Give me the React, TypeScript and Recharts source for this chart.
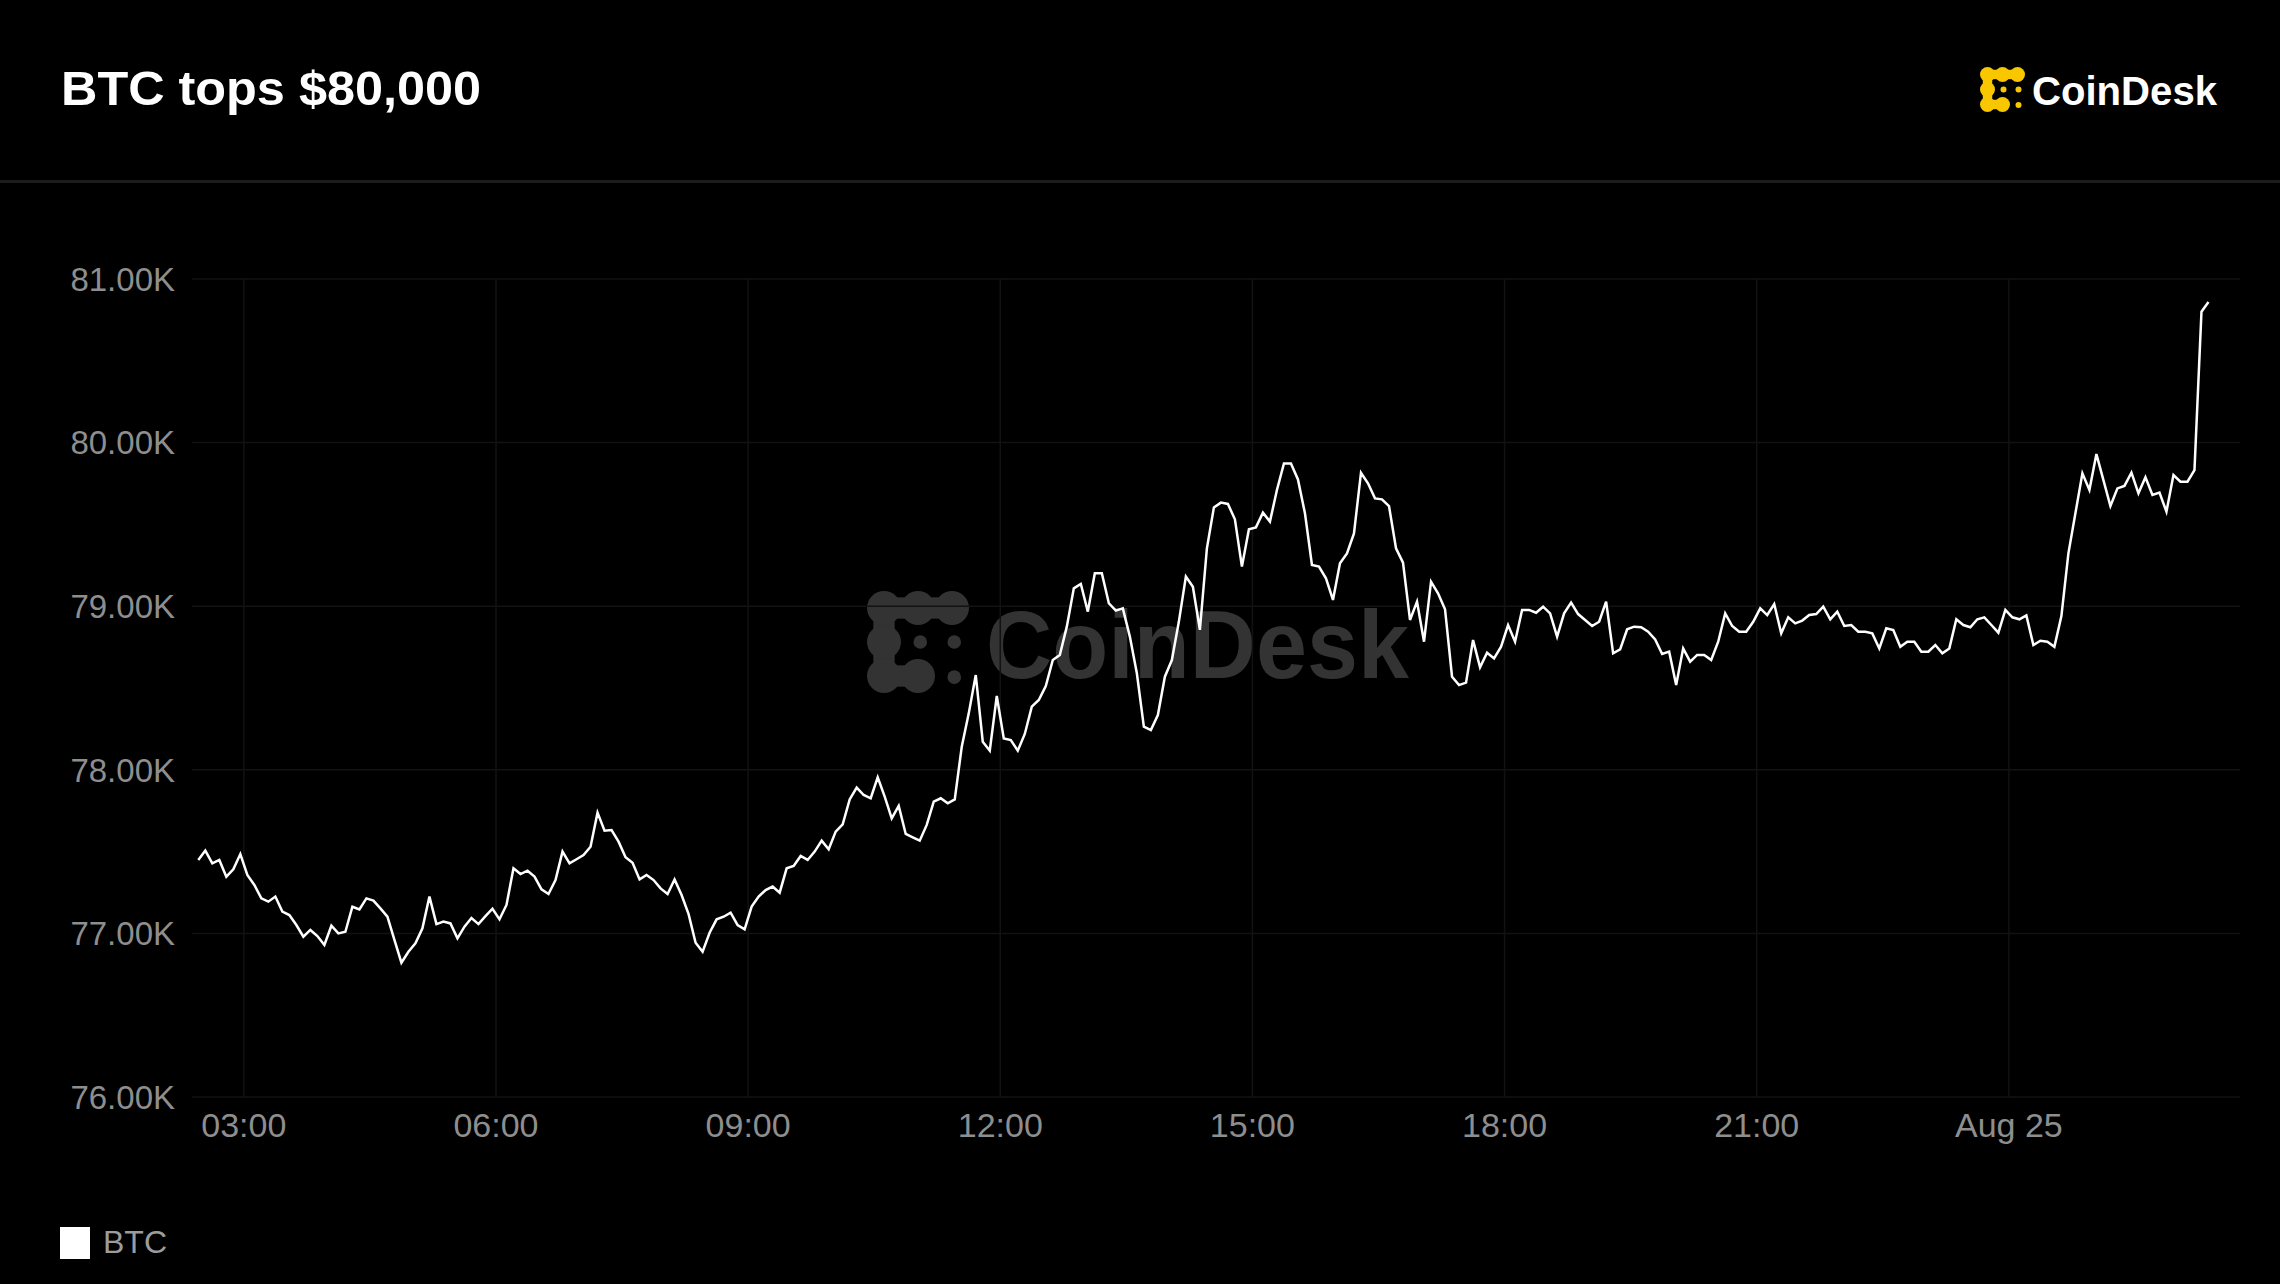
import { LineChart, Line, XAxis, YAxis, CartesianGrid } from "recharts";

const W = 2280;
const H = 1284;
const FONT = '"Liberation Sans", Arial, Helvetica, sans-serif';

// minutes relative to 03:00 on Aug 24, one price every 5 minutes
const START_MIN = -32.5;
const STEP_MIN = 5;
const X_DOMAIN: [number, number] = [-37, 1425];

const earlyMorning = [
  77449, 77506, 77428, 77449, 77347, 77392, 77485, 77357, 77296, 77214,
  77194, 77225, 77133, 77112, 77051, 76980, 77021, 76984, 76929, 77047,
  77000, 77010, 77163, 77147, 77214, 77200, 77153, 77102, 76960, 76821,
  76888, 76939, 77031, 77225, 77057, 77072, 77061, 76970, 77041, 77094,
  77057, 77106, 77151, 77086, 77174, 77398, 77363, 77383, 77347, 77269,
  77241, 77326, 77500, 77428, 77453, 77479, 77530, 77738, 77628, 77632,
  77561, 77465, 77432, 77330, 77357, 77326, 77275, 77241, 77330, 77235,
  77118, 76943, 76888, 77004, 77086, 77102, 77127, 77051,
];

const lateMorning = [
  77025, 77164, 77225, 77265, 77286, 77249, 77398, 77412, 77473, 77449,
  77500, 77567, 77514, 77622, 77667, 77819, 77891, 77846, 77826, 77954,
  77836, 77703, 77779, 77608, 77587, 77567, 77663, 77805, 77826, 77795,
  77819, 78141, 78345, 78579, 78172, 78117, 78451, 78192, 78182, 78117,
  78219, 78386, 78427, 78512, 78671, 78702, 78875, 79109, 79136, 78967,
  79201, 79201, 79018, 78973, 78987, 78814, 78590, 78264, 78243, 78335,
  78569, 78671, 78906, 79181, 79119, 78855,
];

const afternoon = [
  79354, 79604, 79633, 79625, 79531, 79242, 79470, 79482, 79572, 79517,
  79710, 79873, 79873, 79775, 79568, 79252, 79242, 79170, 79038, 79262,
  79323, 79445, 79816, 79751, 79659, 79653, 79612, 79354, 79266, 78916,
  79028, 78783, 79150, 79079, 78981, 78569, 78518, 78533, 78793, 78626,
  78716, 78681, 78753, 78885, 78783, 78977, 78977, 78960, 78997, 78956,
  78814, 78956, 79022, 78952, 78916, 78879, 78905, 79028, 78712, 78736,
  78859, 78875, 78871, 78844,
];

const overnight = [
  78797, 78708, 78722, 78518, 78742, 78661, 78702, 78702, 78671, 78783,
  78956, 78879, 78844, 78844, 78905, 78987, 78946, 79013, 78834, 78932,
  78895, 78912, 78946, 78952, 78997, 78920, 78967, 78879, 78885, 78844,
  78844, 78834, 78742, 78865, 78854, 78752, 78783, 78783, 78722, 78722,
  78763, 78712, 78742, 78920, 78885, 78871, 78920, 78932, 78885, 78838,
  78977, 78932, 78920, 78944, 78763, 78789, 78783, 78752, 78940, 79323,
  79568, 79812, 79710, 79930, 79771, 79612, 79720, 79735, 79816, 79690,
  79788, 79680, 79694, 79578, 79802, 79761, 79761, 79832, 80800, 80860,
];

const xTicks = [0, 180, 360, 540, 720, 900, 1080, 1260];
const xTickLabels = ["03:00", "06:00", "09:00", "12:00", "15:00", "18:00", "21:00", "Aug 25"];
const yTicks = [76000, 77000, 78000, 79000, 80000, 81000];

const prices = [...earlyMorning, ...lateMorning, ...afternoon, ...overnight];
const data = prices.map((btc, i) => ({ t: START_MIN + i * STEP_MIN, btc }));

function LogoMark({ x, y, size, fill }: { x: number; y: number; size: number; fill: string }) {
  const k = size / 45;
  return (
    <g transform={`translate(${x},${y}) scale(${k})`} fill={fill}>
      <rect x={7.5} y={2.8} width={30} height={9.4} />
      <rect x={2.8} y={7.5} width={9.4} height={30} />
      <rect x={7.5} y={32.8} width={15} height={9.4} />
      <circle cx={7.5} cy={7.5} r={7.5} />
      <circle cx={22.5} cy={7.5} r={7.5} />
      <circle cx={37.5} cy={7.5} r={7.5} />
      <circle cx={7.5} cy={22.5} r={7.5} />
      <circle cx={7.5} cy={37.5} r={7.5} />
      <circle cx={22.5} cy={37.5} r={7.5} />
      <circle cx={23.5} cy={22.5} r={3} />
      <circle cx={38.5} cy={22.5} r={3} />
      <circle cx={38.5} cy={38} r={3} />
    </g>
  );
}

// vertical grid only at the time ticks, not at the plot edges
function gridX({ offset }: any) {
  const [d0, d1] = X_DOMAIN;
  return xTicks.map((t) => offset.left + ((t - d0) / (d1 - d0)) * offset.width);
}

export default function App() {
  return (
    <div
      style={{
        position: "absolute",
        left: 0,
        top: 0,
        width: W,
        height: H,
        background: "#000",
        overflow: "hidden",
        fontFamily: FONT,
      }}
    >
      <svg width={W} height={H} style={{ position: "absolute", left: 0, top: 0 }}>
        <text x={61} y={105} fill="#fff" fontSize={48} fontWeight={700} fontFamily={FONT} textLength={420} lengthAdjust="spacingAndGlyphs">
          BTC tops $80,000
        </text>

        <LogoMark x={1980} y={67} size={45} fill="#F8C700" />
        <text x={2032} y={105} fill="#fff" fontSize={41} fontWeight={700} fontFamily={FONT} textLength={185} lengthAdjust="spacingAndGlyphs">
          CoinDesk
        </text>

        <rect x={0} y={180} width={W} height={3} fill="#1c1c1c" />

        {/* watermark */}
        <LogoMark x={867} y={591} size={102} fill="#333333" />
        <text x={986} y={678} fill="#333333" fontSize={97} fontWeight={700} fontFamily={FONT} textLength={423} lengthAdjust="spacingAndGlyphs">
          CoinDesk
        </text>

        {/* legend */}
        <rect x={60} y={1227} width={30} height={32} fill="#fff" />
        <text x={103} y={1253} fill="#9c9c9c" fontSize={32} fontFamily={FONT}>
          BTC
        </text>
      </svg>

      <div style={{ position: "absolute", left: 0, top: 0 }}>
        <LineChart
          width={W}
          height={H}
          data={data}
          margin={{ top: 279, right: 40, bottom: 127, left: 0 }}
        >
          <CartesianGrid stroke="#121212" strokeWidth={1.5} verticalCoordinatesGenerator={gridX} />
          <XAxis
            dataKey="t"
            type="number"
            domain={X_DOMAIN}
            ticks={xTicks}
            interval={0}
            allowDataOverflow
            height={60}
            axisLine={false}
            tickLine={false}
            tickSize={0}
            tickMargin={16}
            tick={{ fill: "#8e8e8e", fontSize: 34, fontFamily: FONT }}
            tickFormatter={(v: number) => xTickLabels[xTicks.indexOf(v)] ?? ""}
          />
          <YAxis
            type="number"
            domain={[76000, 81000]}
            ticks={yTicks}
            interval={0}
            allowDataOverflow
            width={192}
            axisLine={false}
            tickLine={false}
            tickSize={0}
            tickMargin={17}
            tick={{ fill: "#8e8e8e", fontSize: 33, fontFamily: FONT }}
            tickFormatter={(v: number) => `${(v / 1000).toFixed(2)}K`}
          />
          <Line
            type="linear"
            dataKey="btc"
            stroke="#ffffff"
            strokeWidth={2.5}
            dot={false}
            activeDot={false}
            isAnimationActive={false}
          />
        </LineChart>
      </div>
    </div>
  );
}
